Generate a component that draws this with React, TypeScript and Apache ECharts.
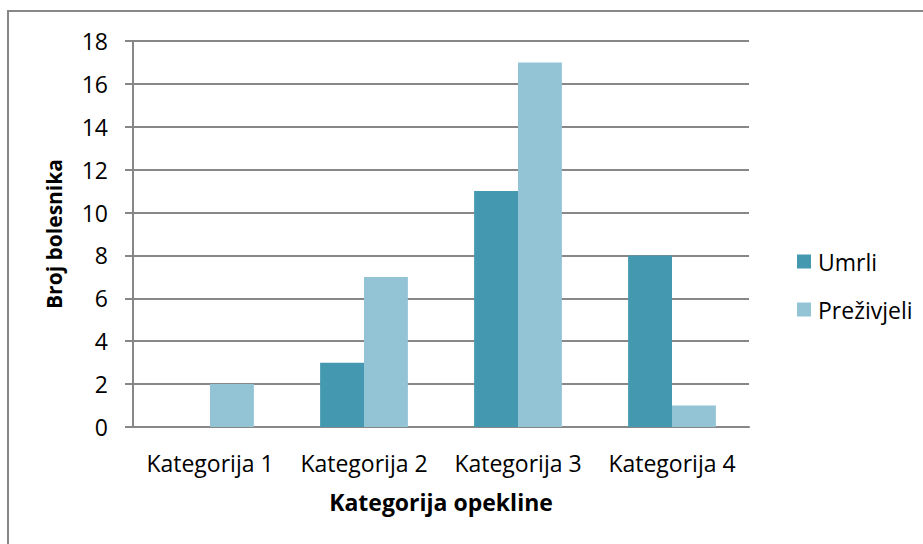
import React, { useEffect, useRef } from "react";
import * as echarts from "echarts";

const categories = ["Kategorija 1", "Kategorija 2", "Kategorija 3", "Kategorija 4"];
const umrli = [0, 3, 11, 8];
const prezivjeli = [2, 7, 17, 1];
const seriesNames = ["Umrli", "Preživjeli"];
const xTitle = "Kategorija opekline";
const yTitle = "Broj bolesnika";

const FONT = "'Open Sans', 'Noto Sans', sans-serif";
const FS = 23;

export default function App() {
  const ref = useRef<HTMLDivElement>(null);
  useEffect(() => {
    if (!ref.current) return;
    const chart = echarts.init(ref.current, undefined, { renderer: "svg" });
    chart.setOption({
      animation: false,
      backgroundColor: "#ffffff",
      textStyle: { fontFamily: FONT },
      graphic: [
        {
          type: "rect",
          shape: { x: 8, y: 11, width: 1000, height: 600 },
          style: { fill: "none", stroke: "#878787", lineWidth: 2 },
          silent: true,
        },
      ],
      grid: { left: 133, right: 174, top: 41, bottom: 117, containLabel: false },
      legend: {
        orient: "vertical",
        left: 792,
        top: 245,
        itemWidth: 14,
        itemHeight: 14,
        itemGap: 25,
        icon: "rect",
        textStyle: { fontSize: FS, color: "#000", fontFamily: FONT, padding: [0, 0, 0, 2] },
        data: seriesNames,
      },
      xAxis: {
        type: "category",
        data: categories,
        name: xTitle,
        nameLocation: "middle",
        nameGap: 63,
        nameTextStyle: { fontSize: FS, fontWeight: "bold", color: "#000", fontFamily: FONT },
        axisLine: { show: true, lineStyle: { color: "#878787", width: 2 } },
        axisTick: { show: false },
        axisLabel: { fontSize: FS, color: "#000", margin: 24, fontFamily: FONT, interval: 0, hideOverlap: false },
      },
      yAxis: {
        type: "value",
        min: 0,
        max: 18,
        interval: 2,
        name: yTitle,
        nameLocation: "middle",
        nameGap: 69,
        nameTextStyle: { fontSize: 21, fontWeight: "bold", color: "#000", fontFamily: FONT },
        axisLine: { show: true, lineStyle: { color: "#878787", width: 2 } },
        axisTick: { show: true, inside: false, length: 8, lineStyle: { color: "#878787", width: 2 } },
        axisLabel: { fontSize: FS, color: "#000", margin: 25, fontFamily: FONT },
        splitLine: { show: true, lineStyle: { color: "#878787", width: 2 } },
      },
      series: [
        {
          name: seriesNames[0],
          type: "bar",
          data: umrli,
          itemStyle: { color: "#4499B1" },
          barGap: "0%",
          barCategoryGap: "43%",
        },
        {
          name: seriesNames[1],
          type: "bar",
          data: prezivjeli,
          itemStyle: { color: "#93C4D6" },
          barGap: "0%",
          barCategoryGap: "43%",
        },
      ],
    });
    return () => chart.dispose();
  }, []);
  return (
    <div
      ref={ref}
      style={{ position: "absolute", left: 0, top: 0, width: 923, height: 544 }}
    />
  );
}
